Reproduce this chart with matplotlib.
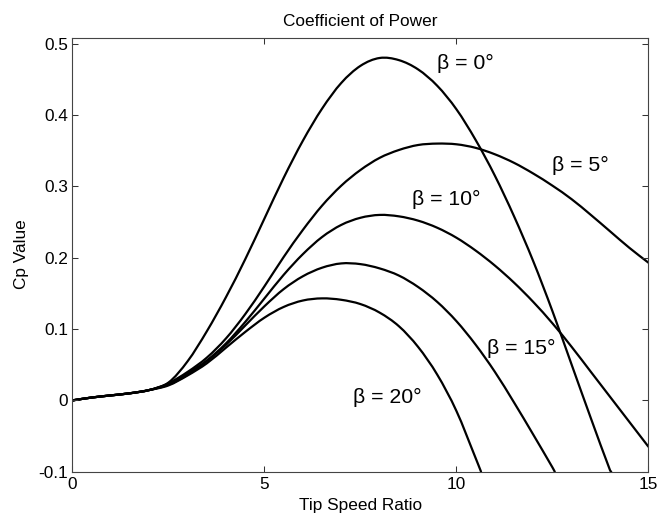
import numpy as np
import matplotlib
matplotlib.use("Agg")
import matplotlib.pyplot as plt
from matplotlib.path import Path
from matplotlib.patches import PathPatch

# Tip speed ratio sample points (shared grid)
lam = np.arange(0, 15.01, 0.5)

# Power coefficient curves for each blade pitch angle.
# Curves that leave the plot through the bottom end at their exit point.
cp_b0 = [0.000, 0.004, 0.007, 0.010, 0.0145, 0.025, 0.055, 0.097, 0.145, 0.198,
         0.255, 0.312, 0.364, 0.409, 0.445, 0.469, 0.480, 0.477, 0.464, 0.441,
         0.408, 0.365, 0.315, 0.258, 0.195, 0.125, 0.050, -0.025, -0.098]
lam_b0_end, cp_b0_end = 14.03, -0.1

cp_b5 = [0.000, 0.004, 0.007, 0.010, 0.0145, 0.024, 0.040, 0.060, 0.087, 0.121,
         0.160, 0.201, 0.239, 0.273, 0.301, 0.323, 0.340, 0.351, 0.358, 0.360,
         0.359, 0.354, 0.345, 0.333, 0.318, 0.301, 0.282, 0.260, 0.237, 0.214,
         0.193]

cp_b10 = [0.000, 0.004, 0.007, 0.010, 0.0145, 0.023, 0.038, 0.056, 0.080, 0.110,
          0.143, 0.176, 0.205, 0.229, 0.246, 0.256, 0.260, 0.258, 0.252, 0.242,
          0.228, 0.210, 0.189, 0.165, 0.138, 0.108, 0.075, 0.040, 0.005, -0.030,
          -0.065]

cp_b15 = [0.000, 0.004, 0.007, 0.010, 0.0145, 0.022, 0.036, 0.055, 0.078, 0.105,
          0.132, 0.156, 0.174, 0.186, 0.192, 0.191, 0.185, 0.175, 0.159, 0.138,
          0.111, 0.078, 0.040, -0.003, -0.048, -0.094]
lam_b15_end, cp_b15_end = 12.56, -0.1

cp_b20 = [0.000, 0.004, 0.007, 0.010, 0.0145, 0.021, 0.035, 0.052, 0.074, 0.096,
          0.116, 0.131, 0.140, 0.143, 0.141, 0.135, 0.123, 0.104, 0.075, 0.036,
          -0.015, -0.081]
lam_b20_end, cp_b20_end = 10.64, -0.1

curve_labels = ["β = 0°", "β = 5°", "β = 10°", "β = 15°", "β = 20°"]
label_pos = [(9.5, 0.472), (12.5, 0.330), (8.85, 0.281), (10.8, 0.0725), (7.3, 0.0046)]

xticks = [0, 5, 10, 15]
xtick_labels = ["0", "5", "10", "15"]
yticks = [-0.1, 0, 0.1, 0.2, 0.3, 0.4, 0.5]
ytick_labels = ["-0.1", "0", "0.1", "0.2", "0.3", "0.4", "0.5"]

plt.rcParams["font.family"] = ["Liberation Sans", "DejaVu Sans"]

fig = plt.figure(figsize=(6.59, 5.21), dpi=100)
ax = fig.add_axes([0.110, 0.0946, 0.874, 0.8334])


def series(values, end=None):
    x = list(lam[:len(values)])
    y = list(values)
    if end is not None:
        x.append(end[0])
        y.append(end[1])
    return np.array(x), np.array(y)


def smooth_path(x, y):
    """Cubic Hermite Bezier path passing through every (x, y) sample."""
    n = len(x)
    m = np.empty(n)
    m[0] = (y[1] - y[0]) / (x[1] - x[0])
    m[-1] = (y[-1] - y[-2]) / (x[-1] - x[-2])
    m[1:-1] = (y[2:] - y[:-2]) / (x[2:] - x[:-2])
    verts = [(x[0], y[0])]
    codes = [Path.MOVETO]
    for i in range(n - 1):
        h = x[i + 1] - x[i]
        verts += [(x[i] + h / 3, y[i] + m[i] * h / 3),
                  (x[i + 1] - h / 3, y[i + 1] - m[i + 1] * h / 3),
                  (x[i + 1], y[i + 1])]
        codes += [Path.CURVE4] * 3
    return Path(verts, codes)


curves = [
    series(cp_b0, (lam_b0_end, cp_b0_end)),
    series(cp_b5),
    series(cp_b10),
    series(cp_b15, (lam_b15_end, cp_b15_end)),
    series(cp_b20, (lam_b20_end, cp_b20_end)),
]
for x, y in curves:
    ax.add_patch(PathPatch(smooth_path(x, y), facecolor="none",
                           edgecolor="black", lw=1.6, capstyle="round",
                           joinstyle="round"))

for text, (tx, ty) in zip(curve_labels, label_pos):
    ax.text(tx, ty, text, fontsize=15.3, ha="left", va="center")

ax.set_xlim(0, 15)
ax.set_ylim(-0.1, 0.5087)
ax.set_xticks(xticks)
ax.set_xticklabels(xtick_labels)
ax.set_yticks(yticks)
ax.set_yticklabels(ytick_labels)
ax.tick_params(direction="in", length=4.0, width=0.75, colors="#333333",
               labelcolor="black", labelsize=12.45, top=True, right=True, pad=4)
ax.tick_params(axis="y", pad=3)
for s in ax.spines.values():
    s.set_color("#444444")
    s.set_linewidth(0.8)

ax.set_title("Coefficient of Power", fontsize=12.45, pad=8.5)
ax.set_xlabel("Tip Speed Ratio", fontsize=12.45)
ax.set_ylabel("Cp Value", fontsize=12.45)
ax.xaxis.set_label_coords(0.5, -0.0615)
ax.yaxis.set_label_coords(-0.075, 0.5)

fig.savefig("out.png", dpi=100)
